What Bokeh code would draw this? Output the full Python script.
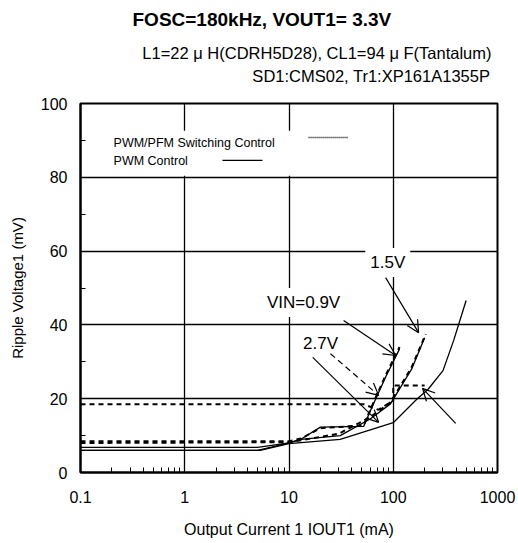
from bokeh.plotting import figure
from bokeh.models import FixedTicker, Label, Arrow, OpenHead, Range1d, Title
from bokeh.core.properties import value
from bokeh.embed import file_html
from bokeh.resources import INLINE

FONT = "Liberation Sans"

# ---- data ----
x_ticks = [0.1, 1, 10, 100, 1000]
x_tick_labels = ["0.1", "1", "10", "100", "1000"]
x_minor = [m * d for d in [0.1, 1, 10, 100] for m in range(2, 10)]
y_ticks = [0, 20, 40, 60, 80, 100]
y_minor = [10, 30, 50, 70, 90]

# PWM control (solid)
i_pwm_09 = [0.1, 5, 10, 13, 20, 52, 62, 85, 115]
v_pwm_09 = [6.8, 6.8, 8.0, 9.0, 12.3, 12.5, 17.5, 26.0, 33.5]
i_pwm_15 = [0.1, 5, 10, 13, 31, 60, 94, 150, 200]
v_pwm_15 = [6.0, 6.0, 8.0, 9.0, 10.0, 14.5, 18.6, 28.0, 36.5]
i_pwm_27 = [0.1, 5.3, 10, 31, 100, 170, 215, 300, 380, 500]
v_pwm_27 = [6.0, 6.0, 7.8, 9.0, 13.5, 20.0, 22.5, 27.6, 35.8, 46.6]

# PWM/PFM switching control (dashed)
i_pfm_09 = [0.1, 10, 13, 20, 52, 62, 85, 115]
v_pfm_09 = [8.5, 8.5, 9.2, 12.0, 12.8, 17.8, 26.5, 34.0]
i_pfm_15 = [0.1, 10, 30, 60, 94, 150, 205]
v_pfm_15 = [8.0, 8.2, 10.5, 15.0, 19.0, 28.5, 37.5]
i_pfm_27 = [0.1, 52, 72, 100, 100, 200]
v_pfm_27 = [18.5, 18.5, 17.0, 19.5, 23.6, 23.6]

# annotations
note_text = ["1.5V", "VIN=0.9V", "2.7V"]
note_x = [88.6, 13.8, 20.1]
note_y = [56.9, 46.1, 35.0]

arrow_x0 = [84.5, 33.4, 16.9, 25.0, 397.0]
arrow_y0 = [52.8, 41.2, 31.2, 32.2, 13.3]
arrow_x1 = [175.0, 105.5, 72.4, 72.4, 191.0]
arrow_y1 = [37.9, 31.7, 13.6, 20.9, 22.8]
arrow_dash = ["solid", "solid", "solid", "6 4", "solid"]

legend_labels = ["PWM/PFM Switching Control", "PWM  Control"]
legend_label_x = [0.2075, 0.2075]
legend_label_y = [89.4, 84.3]
legend_pfm_sample_x = [15.4, 36.5]
legend_pfm_sample_y = [90.8, 90.8]
legend_pwm_sample_x = [2.3, 5.57]
legend_pwm_sample_y = [84.6, 84.6]
legend_box = dict(left=[0.104], right=[54.0], bottom=[80.4], top=[92.6])

title_text = "FOSC=180kHz, VOUT1= 3.3V"
sub1_text = "L1=22 \u03bc H(CDRH5D28), CL1=94 \u03bc F(Tantalum)"
sub2_text = "SD1:CMS02, Tr1:XP161A1355P"

# ---- figure ----
p = figure(width=518, height=543, x_axis_type="log",
           x_range=Range1d(0.1, 1000), y_range=Range1d(0, 100),
           output_backend="svg", toolbar_location=None,
           min_border_left=80, min_border_right=21,
           min_border_top=103, min_border_bottom=71)
p.background_fill_color = "white"
p.border_fill_color = "white"
p.outline_line_color = "black"
p.outline_line_width = 2

xt = FixedTicker(ticks=x_ticks, minor_ticks=x_minor)
yt = FixedTicker(ticks=y_ticks, minor_ticks=y_minor)
p.xaxis.ticker = xt
p.yaxis.ticker = yt
p.xgrid.ticker = xt
p.ygrid.ticker = yt
for g in (p.xgrid, p.ygrid):
    g.grid_line_color = "black"
    g.grid_line_width = 1.3
    g.grid_line_alpha = 1.0

p.xaxis.major_label_overrides = {t: l for t, l in zip(x_ticks, x_tick_labels)}
for ax in (p.xaxis, p.yaxis):
    ax.axis_line_color = "black"
    ax.axis_line_width = 2
    ax.major_tick_in = 0
    ax.major_tick_out = 0
    ax.minor_tick_in = 5
    ax.minor_tick_out = 0
    ax.minor_tick_line_color = "black"
    ax.minor_tick_line_width = 1
    ax.major_label_text_font = FONT
    ax.major_label_text_font_size = "16px"
    ax.major_label_text_color = "black"
    ax.axis_label_text_font = FONT
    ax.axis_label_text_font_style = "normal"
    ax.axis_label_text_color = "black"

p.xaxis.axis_label = "Output Current 1 IOUT1 (mA)"
p.xaxis.axis_label_text_font_size = "16px"
p.xaxis.major_label_standoff = 18
p.xaxis.axis_label_standoff = 15
p.yaxis.axis_label = "Ripple Voltage1 (mV)"
p.yaxis.axis_label_text_font_size = "15px"
p.yaxis.major_label_standoff = 13
p.yaxis.axis_label_standoff = 12

# titles: the first one added sits next to the plot frame.
# The second subtitle line is pushed right with no-break spaces so both lines end together.
sub_block = sub1_text + "\n" + "\u00a0" * 24 + sub2_text
p.add_layout(Title(text=sub_block, align="right", offset=6,
                   text_font=FONT, text_font_size="16.5px", text_font_style="normal",
                   text_color="black", text_line_height=1.3, standoff=36), "above")
p.add_layout(Title(text=title_text, align="left", offset=52, text_font=FONT,
                   text_font_size="19px", text_font_style="bold", text_color="black",
                   standoff=-11), "above")

# legend background box (hides grid lines behind the legend)
p.quad(left=legend_box["left"], right=legend_box["right"],
       bottom=legend_box["bottom"], top=legend_box["top"],
       fill_color="white", line_color=None)

# curves
for xs, ys in [(i_pwm_27, v_pwm_27), (i_pwm_15, v_pwm_15), (i_pwm_09, v_pwm_09)]:
    p.line(xs, ys, line_color="black", line_width=1.3)
for xs, ys in [(i_pfm_27, v_pfm_27), (i_pfm_15, v_pfm_15), (i_pfm_09, v_pfm_09)]:
    p.line(xs, ys, line_color="black", line_width=2, line_dash="5 4")

# legend samples
p.line(legend_pfm_sample_x, legend_pfm_sample_y, line_color="black", line_width=1.5, line_dash="1 1")
p.line(legend_pwm_sample_x, legend_pwm_sample_y, line_color="black", line_width=1.3)
for t, lx, ly in zip(legend_labels, legend_label_x, legend_label_y):
    p.add_layout(Label(x=lx, y=ly, text=t, text_font=FONT, text_font_size="12.5px",
                       text_align="left", text_baseline="middle", text_color="black"))

# annotation labels
for t, lx, ly in zip(note_text, note_x, note_y):
    p.add_layout(Label(x=lx, y=ly, text=t, text_font=FONT, text_font_size="17px",
                       text_align="center", text_baseline="middle", text_color="black",
                       background_fill_color="white", background_fill_alpha=1.0,
                       padding=5))

# arrows
for x0, y0, x1, y1, d in zip(arrow_x0, arrow_y0, arrow_x1, arrow_y1, arrow_dash):
    p.add_layout(Arrow(end=OpenHead(size=12, line_width=1.2, line_color="black"),
                       x_start=x0, y_start=y0, x_end=x1, y_end=y1,
                       line_color="black", line_width=1.2, line_dash=d))

open("out.html", "w").write(file_html(p, INLINE))
